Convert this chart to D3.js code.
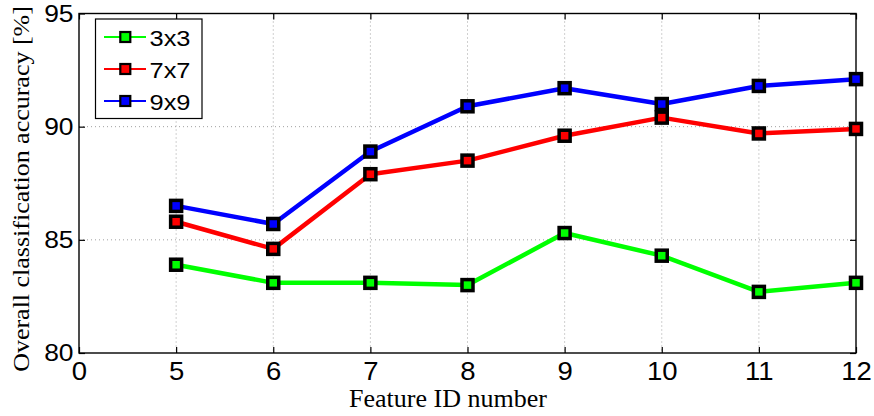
<!DOCTYPE html>
<html><head><meta charset="utf-8">
<script src="https://cdn.jsdelivr.net/npm/d3@7"></script>
<style>body{margin:0;background:#fff}svg{display:block}</style>
</head><body><svg id="c" width="874" height="416"></svg>
<script>
const xTickLabels = ["0","5","6","7","8","9","10","11","12"];
const features = ["5","6","7","8","9","10","11","12"];
const yTicks = [80,85,90,95];
const seriesNames = ["3x3","7x7","9x9"];
const seriesColors = ["#00ff00","#ff0000","#0000ff"];
const acc3x3 = [83.9,83.1,83.1,83.0,85.3,84.3,82.7,83.1];
const acc7x7 = [85.8,84.6,87.9,88.5,89.6,90.4,89.7,89.9];
const acc9x9 = [86.5,85.7,88.9,90.9,91.7,91.0,91.8,92.1];
const seriesValues = [acc3x3, acc7x7, acc9x9];

const svg = d3.select("#c");
const L=79, R=856, T=13.5, B=353;
const x = d3.scalePoint().domain(xTickLabels).range([L,R]).padding(0);
const y = d3.scaleLinear().domain([80,95]).range([B,T]);

// grid
const g = svg.append("g");
g.selectAll("line.vg").data(xTickLabels.slice(1,-1)).enter().append("line")
  .attr("x1",d=>x(d)).attr("x2",d=>x(d)).attr("y1",T).attr("y2",B)
  .attr("stroke","#a0a0a0").attr("stroke-width",1).attr("stroke-dasharray","1,3");
g.selectAll("line.hg").data(yTicks.slice(1,-1)).enter().append("line")
  .attr("x1",L).attr("x2",R).attr("y1",d=>y(d)).attr("y2",d=>y(d))
  .attr("stroke","#a0a0a0").attr("stroke-width",1).attr("stroke-dasharray","1,3");

// axes
const tickLen = 6;
const fontTick = "Liberation Sans, Arial, Helvetica, sans-serif";
const ax = d3.axisBottom(x).tickSizeInner(-tickLen).tickSizeOuter(0).tickPadding(9);
const gx = svg.append("g").attr("transform",`translate(0,${B})`).call(ax);
gx.select(".domain").remove();
gx.selectAll("line").attr("stroke","#000").attr("stroke-width",1.2);
gx.selectAll("text").attr("font-family",fontTick).attr("font-size",25).attr("fill","#000")
  .attr("transform","scale(1.1,1)");
const axt = d3.axisTop(x).tickSizeInner(-tickLen).tickSizeOuter(0).tickFormat("");
const gxt = svg.append("g").attr("transform",`translate(0,${T})`).call(axt);
gxt.select(".domain").remove();
gxt.selectAll("line").attr("stroke","#000").attr("stroke-width",1.2);

const ay = d3.axisLeft(y).tickValues(yTicks).tickSizeInner(-tickLen).tickSizeOuter(0).tickPadding(5);
const gy = svg.append("g").attr("transform",`translate(${L},0)`).call(ay);
gy.select(".domain").remove();
gy.selectAll("line").attr("stroke","#000").attr("stroke-width",1.2);
gy.selectAll("text").attr("font-family",fontTick).attr("font-size",24).attr("fill","#000")
  .attr("transform","scale(1.1,1)");
const ayr = d3.axisRight(y).tickValues(yTicks).tickSizeInner(-tickLen).tickSizeOuter(0).tickFormat("");
const gyr = svg.append("g").attr("transform",`translate(${R},0)`).call(ayr);
gyr.select(".domain").remove();
gyr.selectAll("line").attr("stroke","#000").attr("stroke-width",1.2);

svg.append("rect").attr("x",L).attr("y",T).attr("width",R-L).attr("height",B-T)
  .attr("fill","none").attr("stroke","#000").attr("stroke-width",1.4);

// series
const line = d3.line().x((d,i)=>x(features[i])).y(d=>y(d));
seriesValues.forEach((vals,k)=>{
  const sg = svg.append("g");
  sg.append("path").datum(vals).attr("d",line).attr("fill","none")
    .attr("stroke",seriesColors[k]).attr("stroke-width",4.5).attr("stroke-linejoin","round");
  sg.selectAll("rect").data(vals).enter().append("rect")
    .attr("x",(d,i)=>x(features[i])-5.5).attr("y",d=>y(d)-5.5)
    .attr("width",11).attr("height",11)
    .attr("fill",seriesColors[k]).attr("stroke","#000").attr("stroke-width",3.5);
});

// legend
const lg = svg.append("g");
lg.append("rect").attr("x",95.5).attr("y",19).attr("width",106.5).attr("height",99.5)
  .attr("fill","#fff").attr("stroke","#000").attr("stroke-width",1.2);
seriesNames.forEach((n,k)=>{
  const cy = 37 + k*32;
  lg.append("line").attr("x1",104).attr("x2",146).attr("y1",cy).attr("y2",cy)
    .attr("stroke",seriesColors[k]).attr("stroke-width",1.8);
  lg.append("rect").attr("x",125.3-5).attr("y",cy-5).attr("width",10).attr("height",10)
    .attr("fill",seriesColors[k]).attr("stroke","#000").attr("stroke-width",2.2);
  lg.append("text").attr("x",149.5).attr("y",cy+8.7).text(n)
    .attr("font-family",fontTick).attr("font-size",22).attr("fill","#000")
    .attr("textLength",41).attr("lengthAdjust","spacingAndGlyphs");
});

// titles
svg.append("text").attr("x",448).attr("y",407).attr("text-anchor","middle")
  .attr("font-family","Liberation Serif, Times New Roman, serif").attr("font-size",26)
  .text("Feature ID number");
svg.append("text").attr("transform","translate(28.5,189) rotate(-90) scale(1,0.88)").attr("text-anchor","middle")
  .attr("font-family","Liberation Serif, Times New Roman, serif").attr("font-size",26)
  .text("Overall classification accuracy [%]");
</script></body></html>
